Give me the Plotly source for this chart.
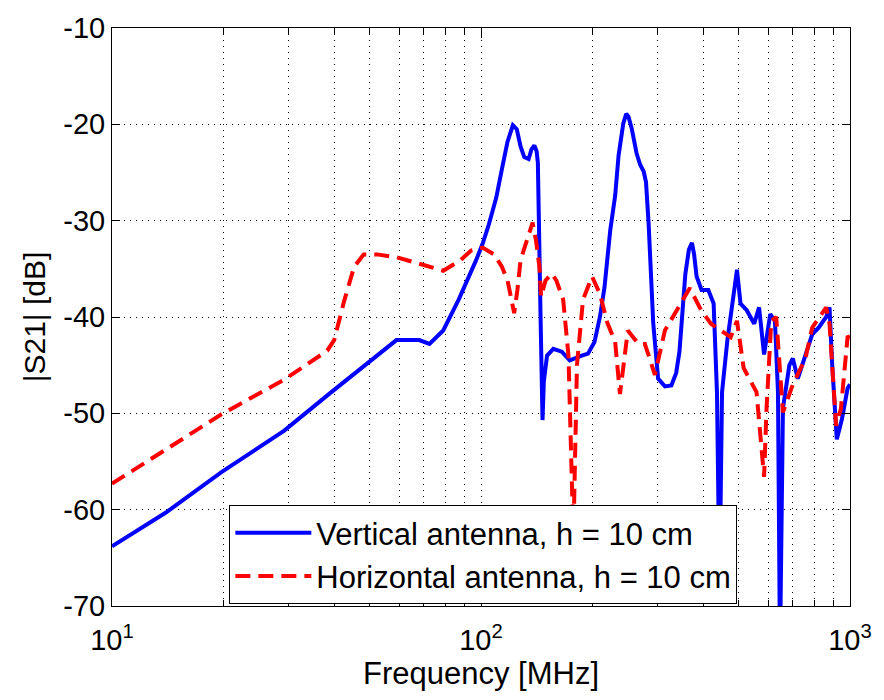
import plotly.graph_objects as go

# ---- data ----
freq_vertical = [10, 14, 19.8, 29.3, 39, 45, 50, 52.3, 59, 68, 72.5, 79, 87, 97, 101, 105, 110, 114,
                 118, 122, 125, 128, 131, 134.6, 137, 139.5, 141.5, 142.6, 143.7, 145, 146.8, 148,
                 151, 157, 165.5, 174, 187.5, 195, 203, 210, 216, 224, 231, 236, 243, 247.5, 251,
                 256, 264, 270, 276, 280, 284.5, 290, 293, 302, 315, 328, 338, 345, 352, 358, 366,
                 373, 378, 384, 396, 413, 427, 436, 443, 450, 465, 485, 494, 505, 525, 550, 567,
                 585, 608, 626, 638, 646, 658, 685, 700, 722, 790, 822, 862, 880, 895, 921, 951,
                 985, 1000]
s21_vertical = [-63.8, -60.3, -56.1, -51.8, -47.9, -46.0, -44.5, -44.0, -42.4, -42.4, -42.8, -41.4,
                -38.2, -34.1, -32.4, -30.4, -27.6, -24.6, -21.8, -20.1, -20.5, -22.3, -23.4, -23.6,
                -22.6, -22.2, -22.8, -24.0, -29.7, -39.9, -50.7, -46.7, -44.0, -43.3, -43.6, -44.5,
                -44.0, -43.8, -42.6, -40.0, -37.0, -31.0, -27.4, -23.2, -19.9, -18.9, -19.2, -20.4,
                -23.0, -24.2, -24.9, -26.0, -30.2, -37.0, -40.7, -46.4, -47.2, -47.1, -45.8, -43.6,
                -39.5, -35.5, -33.0, -32.3, -33.5, -35.8, -37.2, -37.2, -38.6, -47.8, -68.0, -47.8,
                -42.5, -37.2, -35.1, -38.6, -39.3, -40.7, -39.0, -43.9, -39.7, -40.4, -47.8, -75.0,
                -49.5, -45.0, -44.3, -46.4, -41.8, -41.1, -40.0, -39.0, -45.0, -52.7, -50.6, -47.4,
                -47.0]

freq_horizontal = [10, 19.8, 29.3, 38.3, 40, 42.6, 45.3, 48.1, 52.3, 59, 68.4, 79, 88, 94, 101,
                   108.5, 114, 118, 123, 125.5, 128, 133, 138, 141, 144, 145.5, 149.6, 155.5, 160,
                   167, 172.6, 178, 182, 189, 200, 210, 220, 231, 238, 250, 267, 278, 296, 315,
                   342, 368, 395, 420, 475, 494, 515, 558, 585, 594, 612, 631, 658, 700, 757, 790,
                   862, 880, 917, 945, 985, 1000]
s21_horizontal = [-57.3, -50.1, -46.5, -43.5, -42.4, -38.3, -34.8, -33.5, -33.5, -33.8, -34.5,
                  -35.2, -34.1, -33.1, -32.8, -33.5, -34.8, -36.2, -39.6, -37.2, -34.1, -32.1,
                  -30.2, -32.1, -34.8, -37.9, -36.2, -35.5, -36.2, -38.2, -44.0, -63.0, -45.0,
                  -38.2, -35.8, -37.6, -40.6, -42.6, -48.0, -41.4, -42.8, -42.8, -46.0, -41.4,
                  -39.0, -37.0, -39.3, -40.7, -42.1, -40.4, -45.3, -47.8, -56.6, -49.5, -40.4,
                  -40.0, -49.9, -47.0, -44.3, -41.1, -39.0, -40.7, -51.3, -49.5, -42.1, -42.0]

series_names = ["Vertical antenna, h = 10 cm", "Horizontal antenna, h = 10 cm"]
x_major = [10, 100, 1000]
x_major_text = ["10<sup>1</sup>", "10<sup>2</sup>", "10<sup>3</sup>"]
x_minor = [20, 30, 40, 50, 60, 70, 80, 90, 200, 300, 400, 500, 600, 700, 800, 900]
y_ticks = [-70, -60, -50, -40, -30, -20, -10]
y_tick_text = ["-70", "-60", "-50", "-40", "-30", "-20", "-10"]

FONT = "Liberation Sans, Arial, Helvetica, sans-serif"

fig = go.Figure()
fig.add_trace(go.Scatter(x=freq_vertical, y=s21_vertical, mode="lines", name=series_names[0],
                         line=dict(color="#0000FF", width=4)))
fig.add_trace(go.Scatter(x=freq_horizontal, y=s21_horizontal, mode="lines", name=series_names[1],
                         line=dict(color="#FF0000", width=4, dash="15px,8px")))

grid = dict(showgrid=True, gridcolor="#000000", gridwidth=1, griddash="1px,5px")

fig.update_xaxes(type="log", range=[1, 3], tickvals=x_major, ticktext=x_major_text,
                 ticks="inside", ticklen=10, tickcolor="black", mirror="allticks",
                 showline=True, linecolor="black", linewidth=1, zeroline=False,
                 ticklabelstandoff=8,
                 tickfont=dict(family=FONT, size=29, color="black"),
                 title=dict(text="Frequency [MHz]", font=dict(family=FONT, size=31, color="black"),
                            standoff=4),
                 minor=dict(tickvals=x_minor, ticks="inside", ticklen=6, tickcolor="black",
                            showgrid=True, gridcolor="#000000", gridwidth=1, griddash="1px,5px"),
                 **grid)
fig.update_yaxes(range=[-70, -10], tickvals=y_ticks, ticktext=y_tick_text,
                 ticks="inside", ticklen=8, tickcolor="black",
                 mirror="allticks", showline=True, linecolor="black", linewidth=1, zeroline=False,
                 tickfont=dict(family=FONT, size=29, color="black"),
                 title=dict(text="|S21| [dB]", font=dict(family=FONT, size=30, color="black"),
                            standoff=8),
                 **grid)

fig.update_layout(
    width=884, height=700,
    margin=dict(l=112, r=27, t=22, b=94),
    paper_bgcolor="white", plot_bgcolor="white",
    font=dict(family=FONT, color="black"),
    showlegend=True,
    legend=dict(x=0.159, y=0.089, xanchor="left", yanchor="middle",
                bgcolor="white", bordercolor="black", borderwidth=1,
                font=dict(family=FONT, size=31, color="black"),
                itemwidth=76, tracegroupgap=0),
)

fig.write_html("out.html")
